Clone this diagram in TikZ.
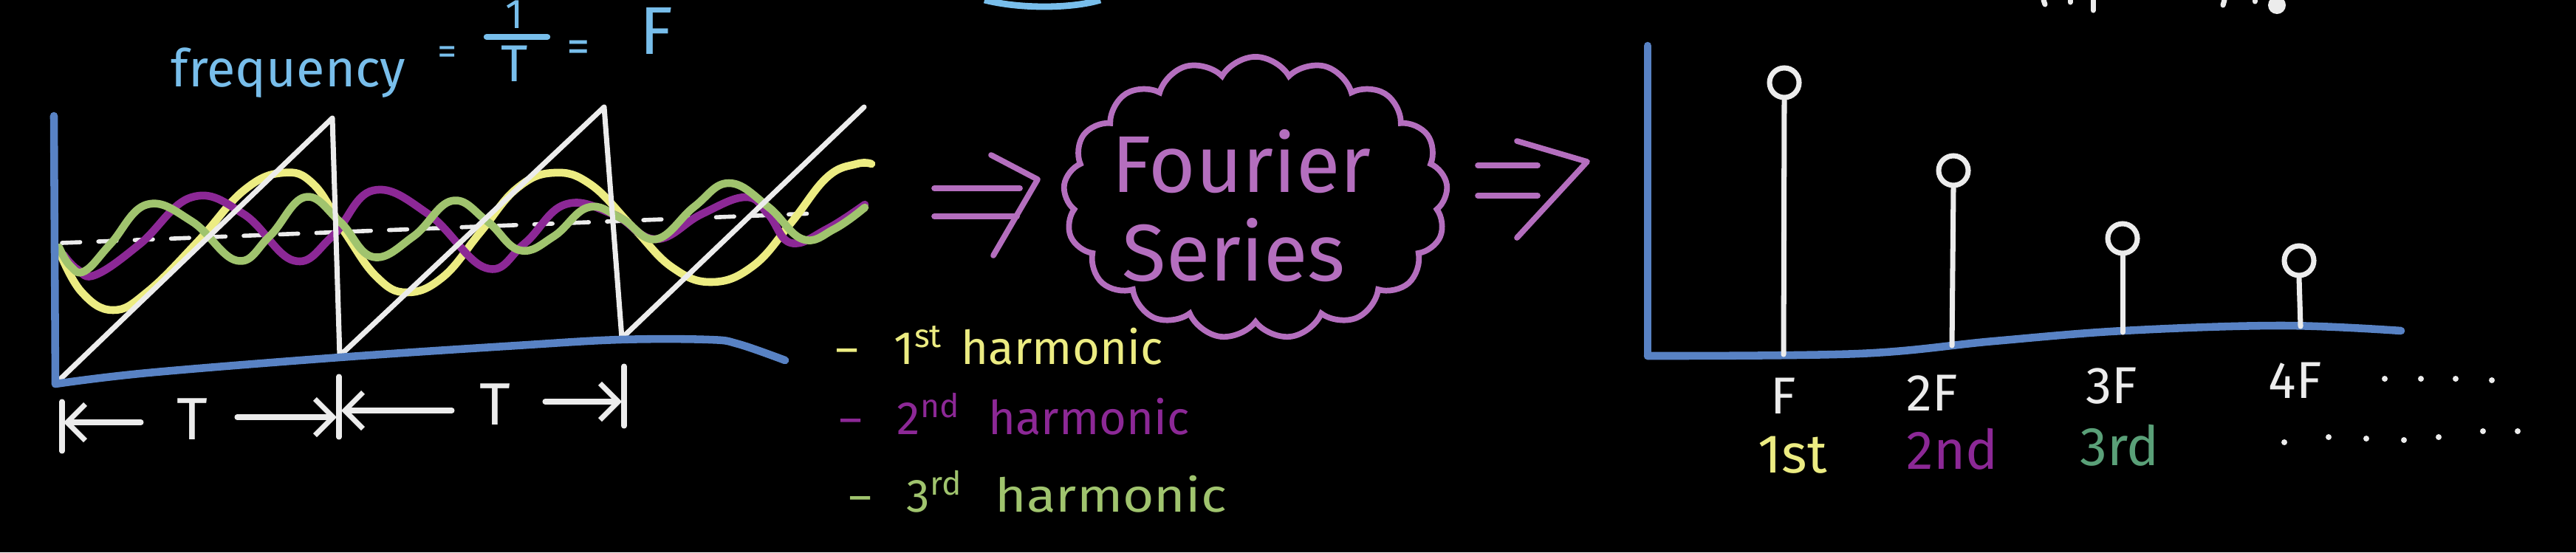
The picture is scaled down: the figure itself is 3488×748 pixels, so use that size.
\documentclass[tikz,border=0pt]{standalone}
\usepackage{fontspec}
\setmainfont{Fira Sans}
\usetikzlibrary{arrows.meta,shapes.symbols}
\definecolor{chalkwhite}{RGB}{236,236,236}
\definecolor{axisblue}{RGB}{88,130,196}
\definecolor{titleblue}{RGB}{120,190,235}
\definecolor{hyellow}{RGB}{236,236,130}
\definecolor{hpurple}{RGB}{140,40,150}
\definecolor{hgreen}{RGB}{160,196,110}
\definecolor{cloudpurple}{RGB}{180,110,190}
\definecolor{tealgreen}{RGB}{90,160,120}
\newcommand\fsz[1]{\fontsize{#1}{#1}\selectfont}
\tikzset{
  wline/.style={draw=chalkwhite, line width=2pt, line cap=round, line join=round},
  axisline/.style={draw=axisblue, line width=3pt, line cap=round, line join=round},
  harm/.style={line width=3pt, line cap=round},
  txt/.style={inner sep=0pt, anchor=base west},
  stemtop/.style={circle, draw=chalkwhite, line width=2pt, fill=black, minimum size=0.4cm, inner sep=0pt},
  dimarrow/.style={wline, -{Straight Barb[length=7pt,width=14pt]}},
  sketcharrow/.style={draw=cloudpurple, line width=2.2pt, line cap=round, line join=round},
  dot/.style={circle, fill=chalkwhite, minimum size=0.08cm, inner sep=0pt}
}
\begin{document}
\begin{tikzpicture}[x=0.01cm,y=-0.01cm]
\useasboundingbox (0,0) rectangle (3488,748);
\fill[black] (0,0) rectangle (3488,748);

% cut-off fragments at the top edge
\draw[draw=titleblue, line width=2.5pt] (1333,0) .. controls (1380,12) and (1450,12) .. (1490,0);
\draw[wline] (2767,0) -- (2769,6);
\draw[wline] (2803,0) -- (2803,3);
\draw[wline] (2834,0) -- (2834,14);
\draw[wline] (3012,0) -- (3010,7);
\draw[wline] (3053,0) -- (3053,2);
\fill[chalkwhite] (3083,7) circle[radius=12];

% title
\node[txt, text=titleblue] (freq) at (231,117) {\fsz{20pt}frequency};
\node[inner sep=0pt, text=titleblue] (eq1) at (606,75) {\fsz{15pt}=};
\node[inner sep=0pt, text=titleblue] (num) at (697,20) {\fsz{16pt}1};
\coordinate (barL) at (659,50);
\coordinate (barR) at (741,50);
\draw[draw=titleblue, line width=2.4pt, line cap=round] (barL) -- (barR);
\node[inner sep=0pt, text=titleblue] (den) at (697,86) {\fsz{20pt}T};
\node[inner sep=0pt, text=titleblue] (eq2) at (783,70) {\fsz{18pt}=};
\node[txt, text=titleblue] (Fsym) at (866,73) {\fsz{26pt}F};

% left graph: harmonics
\draw[wline, line width=1.6pt, dash pattern=on 7pt off 7pt] (84,329) -- (1102,289);
\draw[harm, draw=hyellow] plot[smooth, tension=0.7] coordinates {(80,340) (110,395) (153,420) (200,395) (268,327) (330,258) (383,234) (425,250) (467,315) (510,375) (551,396) (600,375) (650,315) (700,255) (750,234) (800,250) (857,308) (910,362) (964,382) (1020,360) (1071,302) (1120,240) (1160,222) (1180,222)};
\draw[harm, draw=hpurple] plot[smooth, tension=0.7] coordinates {(86,345) (105,365) (130,372) (190,330) (260,267) (330,290) (398,353) (450,320) (505,258) (580,290) (658,363) (710,330) (765,277) (830,290) (888,324) (950,290) (1010,267) (1040,290) (1071,329) (1120,310) (1171,277)};
\draw[harm, draw=hgreen] plot[smooth, tension=0.7] coordinates {(80,335) (95,360) (115,367) (150,330) (199,277) (260,300) (321,353) (365,320) (413,267) (460,300) (505,348) (560,320) (612,272) (660,300) (704,339) (750,320) (796,281) (840,295) (888,324) (940,280) (987,248) (1040,280) (1087,324) (1130,310) (1171,281)};

% sawtooth
\draw[wline] (80,515) -- (450,160) -- (460,482) -- (818,145) -- (842,458) -- (1170,145);

% left axes
\draw[axisline] (73,157) -- (75,520);
\draw[axisline] plot[smooth, tension=0.6] coordinates {(75,520) (200,505) (460,484) (700,468) (840,460) (960,460) (1000,466) (1063,488)};

% period markers
\coordinate (t1a) at (84,544); \coordinate (t1b) at (84,611);
\coordinate (t2a) at (459,510); \coordinate (t2b) at (459,592);
\coordinate (t3a) at (845,496); \coordinate (t3b) at (845,577);
\draw[wline] (t1a) -- (t1b);
\draw[wline] (t2a) -- (t2b);
\draw[wline] (t3a) -- (t3b);
\node[inner sep=0pt, text=chalkwhite] (T1) at (260,568) {\fsz{23pt}T};
\node[inner sep=0pt, text=chalkwhite] (T2) at (670,548) {\fsz{23pt}T};
\coordinate (a1s) at (191,572); \coordinate (a1e) at (86,572);
\coordinate (a2s) at (321,565); \coordinate (a2e) at (456,565);
\coordinate (a3s) at (612,556); \coordinate (a3e) at (462,556);
\coordinate (a4s) at (738,544); \coordinate (a4e) at (842,544);
\draw[dimarrow] (a1s) -- (a1e);
\draw[dimarrow] (a2s) -- (a2e);
\draw[dimarrow] (a3s) -- (a3e);
\draw[dimarrow] (a4s) -- (a4e);

% legend
\node[txt, text=hyellow] (d1) at (1131,493) {\fsz{17pt}--};
\node[txt, text=hyellow] (h1) at (1210,493) {\fsz{18pt}1\textsuperscript{st}\hspace{0.4em}harmonic};
\node[txt, text=hpurple] (d2) at (1136,588) {\fsz{17pt}--};
\node[txt, text=hpurple] (h2) at (1214,588) {\fsz{18pt}2\textsuperscript{nd}\hspace{0.6em}harmonic};
\node[txt, text=hgreen] (d3) at (1149,693) {\fsz{17pt}--};
\node[txt, text=hgreen] (h3) at (1227,693) {\fsz{18pt}3\textsuperscript{rd}\hspace{0.7em}\scalebox{1.15}[1]{harmonic}};

% arrow into cloud
\coordinate (l1a) at (1265,255); \coordinate (l1b) at (1381,255);
\coordinate (l2a) at (1265,293); \coordinate (l2b) at (1377,293);
\draw[sketcharrow] (l1a) -- (l1b);
\draw[sketcharrow] (l2a) -- (l2b);
\draw[sketcharrow] (1342,210) -- (1405,243) -- (1345,346);

% cloud
\node[cloud, draw=cloudpurple, line width=2.2pt, cloud puffs=17, cloud puff arc=120, cloud ignores aspect, minimum width=5.2cm, minimum height=3.82cm, inner sep=0pt] (fs) at (1700,268) {};
\node[txt, text=cloudpurple] (fs1) at (1505,260) {\fsz{31pt}Fourier};
\node[txt, text=cloudpurple] (fs2) at (1519,380) {\fsz{31pt}Series};

% arrow out of cloud
\coordinate (r1a) at (2001,224); \coordinate (r1b) at (2082,224);
\coordinate (r2a) at (2001,265); \coordinate (r2b) at (2082,265);
\draw[sketcharrow] (r1a) -- (r1b);
\draw[sketcharrow] (r2a) -- (r2b);
\draw[sketcharrow] (2054,191) -- (2149,219) -- (2054,322);

% right graph
\draw[axisline] (2231,62) -- (2231,482);
\draw[axisline] plot[smooth, tension=0.6] coordinates {(2231,482) (2517,479) (2700,462) (2875,448) (3089,441) (3251,448)};

\node[stemtop] (c1) at (2416,112) {};
\node[stemtop] (c2) at (2645,231) {};
\node[stemtop] (c3) at (2874,323) {};
\node[stemtop] (c4) at (3113,353) {};
\coordinate (b1) at (2415,480);
\coordinate (b2) at (2643,468);
\coordinate (b3) at (2874,450);
\coordinate (b4) at (3115,442);
\draw[wline] (b1) -- (c1.south);
\draw[wline] (b2) -- (c2.south);
\draw[wline] (b3) -- (c3.south);
\draw[wline] (b4) -- (c4.south);

\node[txt, text=chalkwhite] (f1) at (2397,560) {\fsz{20pt}F};
\node[txt, text=chalkwhite] (f2) at (2581,556) {\fsz{20pt}2F};
\node[txt, text=chalkwhite] (f3) at (2824,546) {\fsz{20pt}3F};
\node[txt, text=chalkwhite] (f4) at (3071,539) {\fsz{20pt}4F};
\node[txt, text=hyellow] (n1) at (2380,640) {\fsz{21pt}1st};
\node[txt, text=hpurple] (n2) at (2581,635) {\fsz{21pt}2nd};
\node[txt, text=tealgreen] (n3) at (2816,630) {\fsz{21pt}3rd};

\foreach \x/\y [count=\i] in {3229/513, 3278/513, 3325/513, 3374/515} {
  \node[dot] (ua\i) at (\x,\y) {};
}
\foreach \x/\y [count=\i] in {3093/599, 3153/592, 3204/594, 3255/596, 3302/592, 3362/584, 3409/584} {
  \node[dot] (ub\i) at (\x,\y) {};
}
\end{tikzpicture}
\end{document}
